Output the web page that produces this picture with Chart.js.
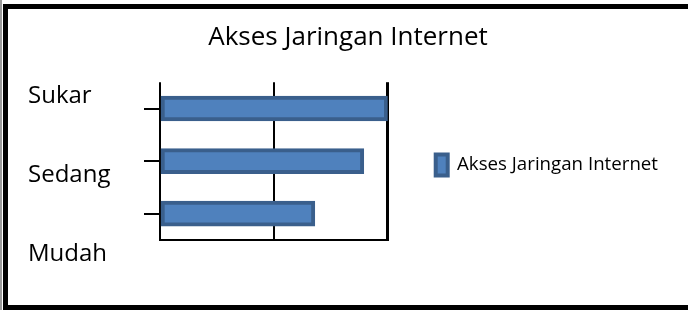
<!DOCTYPE html>
<html lang="id">
<head>
  <meta charset="utf-8">
  <style>
    html, body { margin: 0; padding: 0; background: #fff; }
    .frame { position: relative; width: 688px; height: 310px; overflow: hidden; }
    .edge { position: absolute; left: 0; top: 0; width: 2px; height: 310px; background: #9a9a9a; }
    .border { position: absolute; left: 3px; top: 4px; width: 720px; height: 296px; border: 5px solid #000; border-right: none; }
    #myChart { position: absolute; left: 0; top: 0; }
  </style>
</head>
<body>
  <div class="frame">
    <div class="edge"></div>
    <div class="border"></div>
    <canvas id="myChart" width="688" height="310"></canvas>
  </div>

  <script src="https://cdn.jsdelivr.net/npm/chart.js"></script>
  <script>
    const chartTitle = 'Akses Jaringan Internet';
    const seriesName = 'Akses Jaringan Internet';
    const categories = ['Sukar', 'Sedang', 'Mudah'];
    const values = [20, 17.9, 13.6];

    /* ------------------------------------------------ */

    Chart.defaults.font.family = "'Open Sans', sans-serif";
    Chart.defaults.color = '#000';

    let ctx = document.getElementById('myChart').getContext('2d');

    let chart = new Chart(ctx, {
      type: 'bar',
      data: {
        labels: categories,
        datasets: [{
          label: seriesName,
          data: values,
          backgroundColor: '#4f81bd',
          borderColor: '#3a5f8c',
          borderWidth: 4,
          borderSkipped: false,
          barThickness: 25
        }]
      },
      options: {
        indexAxis: 'y',
        responsive: false,
        animation: false,
        layout: {
          padding: { left: 28, right: 20, top: 0, bottom: 70 }
        },
        scales: {
          x: {
            min: 0,
            max: 20,
            ticks: { display: false, stepSize: 10 },
            grid: {
              color: '#000',
              lineWidth: (c) => c.index === 2 ? 3 : 2,
              drawTicks: false
            },
            border: { display: true, color: '#000', width: 2 },
            afterFit: (s) => { s.height = 0; }
          },
          y: {
            ticks: { display: false },
            grid: {
              offset: false,
              drawOnChartArea: false,
              color: '#000',
              lineWidth: 2,
              tickLength: 16
            },
            border: { display: false },
            afterFit: (s) => { s.width = 18; }
          },
          names: {
            type: 'category',
            position: 'left',
            weight: 1,
            offset: false,
            ticks: {
              crossAlign: 'far',
              labelOffset: 14,
              padding: 0,
              font: { size: 24 },
              color: '#000'
            },
            grid: { display: false },
            border: { display: false },
            afterFit: (s) => { s.width = 114; }
          },
          gap: {
            type: 'linear',
            position: 'right',
            ticks: { display: false },
            grid: { display: false },
            border: { display: false },
            afterFit: (s) => { s.width = 38; }
          }
        },
        plugins: {
          title: {
            display: true,
            text: chartTitle,
            color: '#000',
            font: { size: 26, weight: 'normal' },
            padding: { top: 22, bottom: 29 }
          },
          legend: {
            display: true,
            position: 'right',
            align: 'start',
            maxWidth: 300,
            title: {
              display: true,
              text: '',
              font: { size: 12 },
              padding: { top: 130, bottom: 0 }
            },
            labels: {
              boxWidth: 12,
              boxHeight: 21,
              padding: 10,
              color: '#000',
              font: { size: 18.7 }
            }
          },
          tooltip: { enabled: false }
        }
      }
    });
  </script>
</body>
</html>
